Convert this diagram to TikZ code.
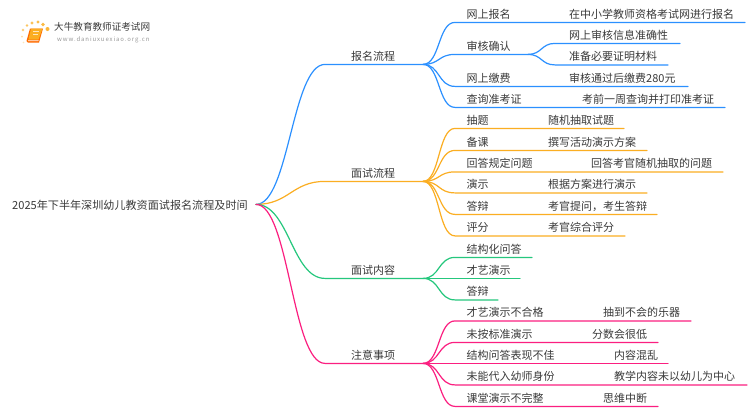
\documentclass[tikz,border=0pt]{standalone}
\usepackage{fontspec}
\setmainfont{Noto Sans CJK SC}
\definecolor{cblue}{HTML}{2B90FF}
\definecolor{corange}{HTML}{FBAE22}
\definecolor{cgreen}{HTML}{25C77D}
\definecolor{cpink}{HTML}{FB1F80}
\definecolor{ctext}{HTML}{3A3A3A}
\tikzset{
  lbl/.style={anchor=base west,inner sep=0pt,text=ctext,font=\fontsize{11pt}{11pt}\selectfont},
  link/.style={line width=1.2pt,line cap=round},
  short/.style={link,draw=#1},
}
% \leaf{name}{colour}{parent}{y}{x end}{label}{detail x}{detail}
\newcommand{\leaf}[8]{%
  \coordinate (#1s) at (455,#4+.4);
  \coordinate (#1e) at (#5,#4+.4);
  \node[lbl] (#1l) at (466.5,#4-3.8) {#6};
  \node[lbl] (#1d) at (#7,#4-3.8) {#8};
  \draw[short=#2] (#3) .. controls +(17,0) and +(-17,0) .. (#1s) -- (#1e);
}
\newcommand{\leafb}[6]{%
  \coordinate (#1s) at (455,#4+.4);
  \coordinate (#1e) at (#5,#4+.4);
  \node[lbl] (#1l) at (466.5,#4-3.8) {#6};
  \draw[short=#2] (#3) .. controls +(17,0) and +(-17,0) .. (#1s) -- (#1e);
}
% \mainb{name}{colour}{y}{label}
\newcommand{\mainb}[4]{%
  \coordinate (#1s) at (325,#3+.4);
  \coordinate (#1) at (423,#3+.4);
  \node[lbl] (#1l) at (351,#3-3.8) {#4};
  \draw[short=#2] (root) .. controls +(33,0) and +(-33,0) .. (#1s) -- (#1);
}
\begin{document}
\begin{tikzpicture}[x=1pt,y=-1pt]
\useasboundingbox (0,0) rectangle (750,410);
\fill[white] (0,0) rectangle (750,410);

% logo
\foreach \px/\py/\r/\o in {23/30/1.3/60,27/25.5/1.4/70,32/23/1.6/75,38/22/1.7/80,43/24.5/1.8/85,47.5/29/2/90,22/36.5/1/40,23.5/42.5/.9/30}
  \fill[corange,opacity=\o/100] (\px,\py) circle (\r);
\fill[orange!85!red] (30,28.5) -- (43,28.5) -- (39,42.5) -- (28,42.5) -- (26.5,41) -- cycle;
\fill[corange] (31,28.5) -- (42.5,28.5) -- (38.5,39.5) -- (28.5,39.5) -- cycle;
\fill[white,opacity=.7] (33,31) rectangle (39,32);
\fill[white,opacity=.7] (32.5,33.5) rectangle (38,34.3);
\fill[white] (28,40.3) -- (38.6,40.3) -- (38.4,41.2) -- (28,41.2) -- cycle;
\node[lbl,anchor=base west,text=ctext,font=\fontsize{9.6pt}{10pt}\selectfont] (logot) at (54,30.5) {大牛教育教师证考试网};
\shade[left color=white,middle color=gray!35,right color=white] (60,33) rectangle (146,33.8);
\node[lbl,anchor=base west,text=gray!80,font=\fontsize{6pt}{6pt}\selectfont,inner sep=0pt] (logou) at (57,41) {\addfontfeature{LetterSpace=15}www.daniuxuexiao.org.cn};

% root
\node[lbl,anchor=base west,font=\fontsize{11.1pt}{11pt}\selectfont] (roott) at (12,209.7) {2025年下半年深圳幼儿教资面试报名流程及时间};
\coordinate (root) at (256,204.4);

% main branches
\mainb{a}{cblue}{64}{报名流程}
\mainb{b}{corange}{181}{面试流程}
\mainb{c}{cgreen}{278}{面试内容}
\mainb{d}{cpink}{363}{注意事项}

% blue
\leaf{a1}{cblue}{a}{22}{745}{网上报名}{569}{在中小学教师资格考试网进行报名}
\leafb{a2}{cblue}{a}{54}{528}{审核确认}
\coordinate (a2j) at (a2e);
\coordinate (a21s) at (555,43.4);
\coordinate (a21e) at (680,43.4);
\coordinate (a22s) at (555,64.9);
\coordinate (a22e) at (668,64.9);
\node[lbl] (a21) at (569,39.2) {网上审核信息准确性};
\node[lbl] (a22) at (569,60.7) {准备必要证明材料};
\draw[short=cblue] (a2j) .. controls +(14,0) and +(-14,0) .. (a21s) -- (a21e);
\draw[short=cblue] (a2j) .. controls +(14,0) and +(-14,0) .. (a22s) -- (a22e);
\leaf{a3}{cblue}{a}{86}{688}{网上缴费}{569}{审核通过后缴费280元}
\leaf{a4}{cblue}{a}{107}{725}{查询准考证}{582}{考前一周查询并打印准考证}

% orange
\leaf{b1}{corange}{b}{128}{624}{抽题}{548}{随机抽取试题}
\leaf{b2}{corange}{b}{150}{647}{备课}{548}{撰写活动演示方案}
\leaf{b3}{corange}{b}{171.5}{723}{回答规定问题}{591}{回答考官随机抽取的问题}
\leaf{b4}{corange}{b}{192.5}{647}{演示}{548}{根据方案进行演示}
\leaf{b5}{corange}{b}{214}{657}{答辩}{548}{考官提问，考生答辩}
\leaf{b6}{corange}{b}{235.5}{625}{评分}{548}{考官综合评分}

% green
\leafb{c1}{cgreen}{c}{257}{532}{结构化问答}
\leafb{c2}{cgreen}{c}{278}{520}{才艺演示}
\leafb{c3}{cgreen}{c}{299.5}{498}{答辩}

% pink
\leaf{d1}{cpink}{d}{320.5}{691}{才艺演示不合格}{603}{抽到不会的乐器}
\leaf{d2}{cpink}{d}{342}{658}{未按标准演示}{592}{分数会很低}
\leaf{d3}{cpink}{d}{363}{668}{结构问答表现不佳}{614}{内容混乱}
\leaf{d4}{cpink}{d}{384.5}{747}{未能代入幼师身份}{614}{教学内容未以幼儿为中心}
\leaf{d5}{cpink}{d}{406}{658}{课堂演示不完整}{603}{思维中断}
\end{tikzpicture}
\end{document}
